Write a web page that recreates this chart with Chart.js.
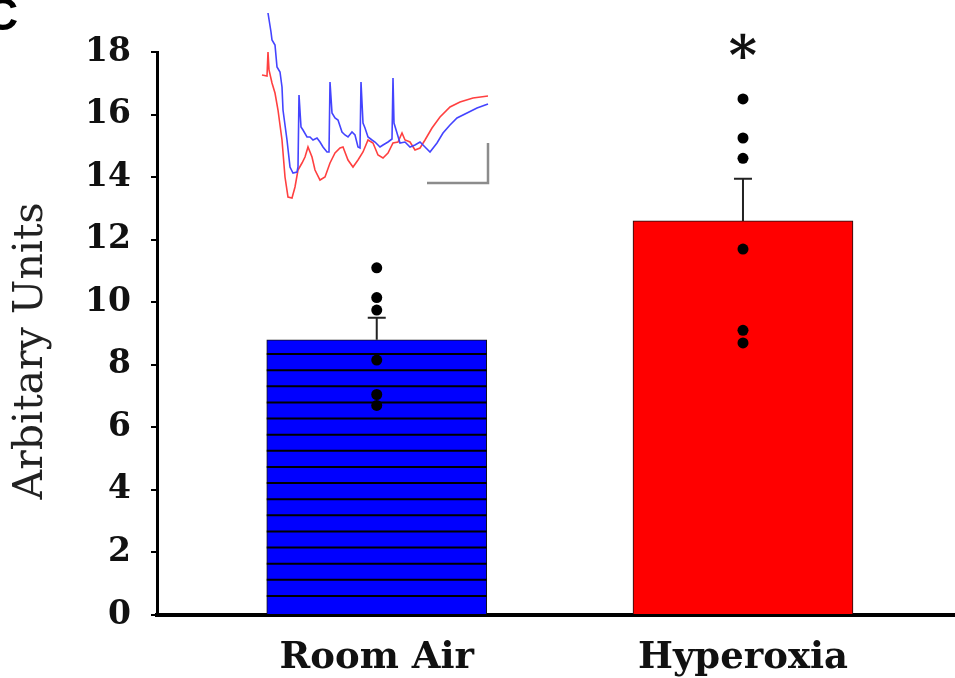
<!DOCTYPE html>
<html>
<head>
<meta charset="utf-8">
<script src="https://cdn.jsdelivr.net/npm/chart.js@4.4.1/dist/chart.umd.min.js"></script>
<style>
  html, body { margin: 0; padding: 0; background: #fff; overflow: hidden; }
  #wrap { position: relative; width: 955px; height: 678px; overflow: hidden; }
  #main { position: absolute; left: 0; top: 0; }
  #inset { position: absolute; left: 260px; top: 0; }
</style>
</head>
<body>
<div id="wrap">
  <canvas id="main" width="962" height="678"></canvas>
  <canvas id="inset" width="240" height="205"></canvas>
</div>
<script>
// bar chart values
var categories = ['Room Air', 'Hyperoxia'];
var means = [8.8, 12.6];
var sem = [0.7, 1.35];
var roomAirDots = [11.1, 10.15, 9.75, 8.15, 7.05, 6.7];
var hyperoxiaDots = [16.5, 15.25, 14.6, 11.7, 9.1, 8.7];
var significance = ['', '*'];
var yTicks = [0, 2, 4, 6, 8, 10, 12, 14, 16, 18];
var yTitle = 'Arbitary Units';
var panelLetter = 'C';

// inset traces (time, amplitude)
var blueT = [8, 11, 12, 15, 17, 20, 22, 23, 27, 30, 33, 37, 38, 39, 41, 43, 47, 50, 53, 57, 60, 63, 67, 69, 70, 72, 75, 78, 82, 85, 88, 92, 95, 98, 100, 101, 103, 105, 108, 112, 115, 120, 123, 128, 132, 133, 134, 137, 140, 145, 150, 155, 160, 165, 170, 177, 183, 190, 197, 207, 217, 228];
var blueV = [187, 168, 160, 155, 133, 128, 113, 90, 60, 33, 27, 28, 33, 105, 73, 70, 63, 63, 60, 62, 58, 53, 48, 48, 118, 87, 82, 80, 68, 65, 63, 68, 65, 53, 52, 118, 77, 72, 63, 60, 58, 53, 55, 58, 61, 122, 77, 67, 57, 58, 53, 55, 58, 53, 48, 57, 67, 75, 82, 87, 92, 96];
var redT = [2, 7, 8, 9, 12, 15, 18, 22, 25, 28, 32, 35, 38, 42, 45, 48, 52, 55, 60, 65, 70, 75, 80, 83, 88, 93, 98, 103, 108, 113, 118, 123, 128, 133, 138, 142, 145, 150, 155, 160, 165, 172, 180, 190, 200, 213, 228];
var redV = [125, 124, 148, 130, 117, 107, 90, 60, 23, 3, 2, 13, 30, 37, 43, 53, 43, 30, 20, 23, 37, 47, 52, 53, 40, 33, 40, 48, 60, 57, 45, 42, 47, 57, 58, 67, 60, 58, 50, 52, 60, 72, 83, 93, 98, 102, 104];
var scaleBarT = [167, 228, 228];
var scaleBarV = [17, 17, 57];

var serif = '"DejaVu Serif", "Liberation Serif", serif';

function points(xs, ys) {
    return xs.map(function(x, i) { return { x: x, y: ys[i] }; });
}

var dotPoints = [];
roomAirDots.forEach(function(v) { dotPoints.push({ x: 1, y: v }); });
hyperoxiaDots.forEach(function(v) { dotPoints.push({ x: 2, y: v }); });

var decorations = {
    id: 'decorations',
    afterDatasetDraw: function(chart, args) {
        if (args.meta.type !== 'bar') return;
        var ctx = chart.ctx, y = chart.scales.y;
        var base = y.getPixelForValue(0);
        args.meta.data.forEach(function(bar, i) {
            var left = bar.x - bar.width / 2, right = bar.x + bar.width / 2;
            ctx.save();
            // horizontal hatching on the room air bar
            if (i === 0) {
                ctx.strokeStyle = '#000';
                ctx.lineWidth = 2;
                ctx.beginPath();
                for (var s = base - 19; s > bar.y + 8; s -= 16.13) {
                    ctx.moveTo(left, s);
                    ctx.lineTo(right, s);
                }
                ctx.stroke();
            }
            // upper error bar
            var top = y.getPixelForValue(means[i] + sem[i]);
            ctx.strokeStyle = '#222';
            ctx.lineWidth = 2;
            ctx.beginPath();
            ctx.moveTo(bar.x, bar.y);
            ctx.lineTo(bar.x, top);
            ctx.moveTo(bar.x - 9, top);
            ctx.lineTo(bar.x + 9, top);
            ctx.stroke();
            ctx.restore();
        });
    },
    afterDraw: function(chart) {
        var ctx = chart.ctx, area = chart.chartArea, x = chart.scales.x;
        ctx.save();
        ctx.fillStyle = '#111';
        // significance marks
        ctx.font = 'bold 54px ' + serif;
        ctx.textAlign = 'center';
        ctx.textBaseline = 'alphabetic';
        significance.forEach(function(mark, i) {
            if (!mark) return;
            var m = ctx.measureText(mark);
            var cy = area.top - 6;
            ctx.fillText(mark, x.getPixelForValue(i + 1), cy + (m.actualBoundingBoxAscent - m.actualBoundingBoxDescent) / 2);
        });
        // y title
        ctx.save();
        ctx.translate(31, 351);
        ctx.rotate(-Math.PI / 2);
        ctx.font = '41px ' + serif;
        ctx.textAlign = 'center';
        ctx.textBaseline = 'middle';
        ctx.fillStyle = '#222';
        ctx.fillText(yTitle, 0, 0);
        ctx.restore();
        // panel letter, cut at the edge
        ctx.font = 'bold 46px "Liberation Sans", Arial, sans-serif';
        ctx.textAlign = 'left';
        ctx.fillStyle = '#000';
        ctx.fillText(panelLetter, -15, 30);
        ctx.restore();
    }
};

new Chart(document.getElementById('main'), {
    type: 'bar',
    data: {
        datasets: [{
            type: 'bar',
            data: points([1, 2], means),
            backgroundColor: ['#0000ff', '#ff0000'],
            borderColor: '#111',
            borderWidth: 1,
            barThickness: 220,
            order: 2
        }, {
            type: 'scatter',
            data: dotPoints,
            pointRadius: 5.5,
            pointBackgroundColor: '#000',
            pointBorderWidth: 0,
            order: 1
        }]
    },
    options: {
        responsive: false,
        animation: false,
        layout: { padding: { top: 52, left: 0, right: 0, bottom: 0 } },
        plugins: {
            legend: { display: false },
            tooltip: { enabled: false }
        },
        scales: {
            x: {
                type: 'linear',
                bounds: 'data',
                offset: false,
                min: 0.4,
                max: 2.583,
                afterBuildTicks: function(scale) {
                    scale.ticks = categories.map(function(c, i) { return { value: i + 1 }; });
                },
                afterFit: function(scale) { scale.height = 63; },
                grid: { display: false, drawTicks: false },
                border: { display: true, color: '#000', width: 4 },
                ticks: {
                    autoSkip: false,
                    maxRotation: 0,
                    padding: 21,
                    color: '#111',
                    font: { family: serif, size: 37, weight: 'bold' },
                    callback: function(value) { return categories[Math.round(value) - 1]; }
                }
            },
            y: {
                bounds: 'data',
                min: 0,
                max: 18,
                afterBuildTicks: function(scale) {
                    scale.ticks = yTicks.map(function(v) { return { value: v }; });
                },
                afterFit: function(scale) { scale.width = 157; },
                grid: { drawOnChartArea: false, drawTicks: true, tickLength: 6, color: '#000', lineWidth: 2 },
                border: { display: true, color: '#000', width: 3 },
                ticks: {
                    padding: 20,
                    color: '#111',
                    font: { family: serif, size: 33, weight: 'bold' }
                }
            }
        }
    },
    plugins: [decorations]
});

// inset recording traces
new Chart(document.getElementById('inset'), {
    type: 'line',
    data: {
        datasets: [{
            data: points(blueT, blueV),
            borderColor: '#4444ff',
            borderWidth: 1.6
        }, {
            data: points(redT, redV),
            borderColor: '#ff4040',
            borderWidth: 1.6
        }, {
            data: points(scaleBarT, scaleBarV),
            borderColor: '#8c8c8c',
            borderWidth: 2.5
        }]
    },
    options: {
        responsive: false,
        animation: false,
        layout: { padding: 0 },
        plugins: {
            legend: { display: false },
            tooltip: { enabled: false }
        },
        elements: {
            point: { radius: 0 },
            line: { tension: 0 }
        },
        scales: {
            x: { type: 'linear', display: false, min: 0, max: 240 },
            y: { type: 'linear', display: false, min: -5, max: 200 }
        }
    }
});
</script>
</body>
</html>
